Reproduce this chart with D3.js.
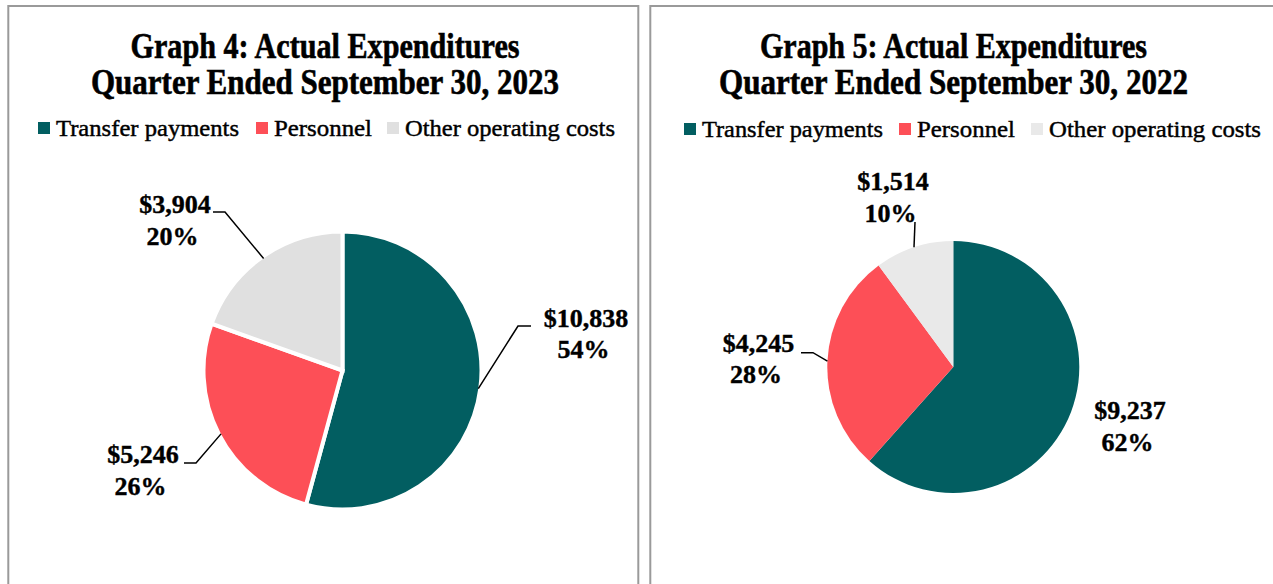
<!DOCTYPE html>
<html>
<head>
<meta charset="utf-8">
<script src="https://cdn.jsdelivr.net/npm/d3@7"></script>
<style>
  body { margin: 0; background: #fff; }
  text { font-family: 'Liberation Serif', 'Times New Roman', serif; fill: #000; }
</style>
</head>
<body>
<div id="chart"></div>
<script>
'use strict';

// chart data
const categories = ['Transfer payments', 'Personnel', 'Other operating costs'];
const values2023 = [10838, 5246, 3904];
const values2022 = [9237, 4245, 1514];
const titles2023 = ['Graph 4: Actual Expenditures', 'Quarter Ended September 30, 2023'];
const titles2022 = ['Graph 5: Actual Expenditures', 'Quarter Ended September 30, 2022'];

const sliceColors = ['#025e61', '#fd4f57', '#e0e0e0'];
const sliceColorsRight = ['#025e61', '#fd4f57', '#e9e9e9'];

const width = 1273;
const height = 584;

const svg = d3.select('#chart')
  .append('svg')
    .attr('width', width)
    .attr('height', height);

/** label layout for each panel: label centre (first baseline) and leader bend, relative to the pie centre */
const layoutLeft = [
  { lx: 243.5, ly: -44, bend: [175.5, -44.5], end: [188.5, -44.5] },
  { lx: -199.5, ly: 92.5, bend: [-146.5, 92.5], end: [-158.5, 92.5] },
  { lx: -167.5, ly: -157.5, bend: [-117.5, -158.5], end: [-129.5, -158.5] }
];
const layoutRight = [
  { lx: 176.7, ly: 52, bend: null, end: null },
  { lx: -194.8, ly: -15.3, bend: [-140.3, -14.3], end: [-152.3, -14.3] },
  { lx: -60.3, ly: -177, bend: [-38.3, -145], end: null }
];

/**
 * draw one panel: border, title, legend, pie and labels
 */
function drawPanel (cfg) {
  const g = svg.append('g');

  // panel border
  g.append('rect')
    .attr('x', cfg.box[0])
    .attr('y', cfg.box[1])
    .attr('width', cfg.box[2])
    .attr('height', cfg.box[3])
    .attr('fill', 'none')
    .attr('stroke', '#9a9a9a')
    .attr('stroke-width', 2);

  // title
  cfg.titles.forEach(function (t, i) {
    g.append('text')
      .attr('x', cfg.titleX)
      .attr('y', 58 + i * 36)
      .attr('text-anchor', 'middle')
      .attr('font-size', 35)
      .attr('font-weight', 'bold')
      .attr('stroke', '#000')
      .attr('stroke-width', 0.6)
      .attr('textLength', cfg.titleWidths[i])
      .attr('lengthAdjust', 'spacingAndGlyphs')
      .text(t);
  });

  // legend
  const legend = g.selectAll('.legend')
    .data(categories)
    .join('g')
      .attr('class', 'legend')
      .attr('transform', (d, i) => `translate(${cfg.legendX[i]},0)`);
  legend.append('rect')
    .attr('x', 0)
    .attr('y', cfg.legendY - 6)
    .attr('width', 12)
    .attr('height', 12)
    .attr('fill', (d, i) => cfg.colors[i]);
  legend.append('text')
    .attr('x', 18)
    .attr('y', cfg.legendY + 7.5)
    .attr('font-size', 24)
    .attr('stroke', '#000')
    .attr('stroke-width', 0.45)
    .attr('textLength', (d, i) => cfg.legendWidths[i])
    .attr('lengthAdjust', 'spacingAndGlyphs')
    .text(d => d);

  // pie
  const total = d3.sum(cfg.values);
  const pie = d3.pie().sort(null).value(d => d);
  const slices = pie(cfg.values);
  const arc = d3.arc().innerRadius(0).outerRadius(cfg.radius + cfg.gap / 2);
  const edgeArc = d3.arc().innerRadius(cfg.radius).outerRadius(cfg.radius);

  const pieG = g.append('g')
    .attr('transform', `translate(${cfg.cx},${cfg.cy})`);

  pieG.selectAll('path')
    .data(slices)
    .join('path')
      .attr('d', arc)
      .attr('fill', (d, i) => cfg.colors[i])
      .attr('stroke', cfg.gap > 0 ? '#fff' : 'none')
      .attr('stroke-width', cfg.gap)
      .attr('stroke-linejoin', 'miter');

  // leader lines
  const line = d3.line();
  slices.forEach(function (s, i) {
    const lay = cfg.layout[i];
    if (!lay.bend) return;
    const pts = [edgeArc.centroid(s), lay.bend];
    if (lay.end) pts.push(lay.end);
    pieG.append('path')
      .attr('d', line(pts))
      .attr('fill', 'none')
      .attr('stroke', '#000')
      .attr('stroke-width', 1.5);
  });

  // data labels
  const fmtMoney = d3.format('$,');
  const fmtPct = d3.format('.0%');
  slices.forEach(function (s, i) {
    const lay = cfg.layout[i];
    const t = pieG.append('text')
      .attr('text-anchor', 'middle')
      .attr('font-size', 26)
      .attr('font-weight', 'bold')
      .attr('stroke', '#000')
      .attr('stroke-width', 0.4);
    t.append('tspan')
      .attr('x', lay.lx)
      .attr('y', lay.ly)
      .text(fmtMoney(s.data));
    t.append('tspan')
      .attr('x', lay.lx - 2.5)
      .attr('y', lay.ly + 31.6)
      .text(fmtPct(s.data / total));
  });
}

drawPanel({
  box: [8.3, 6, 630, 600],
  titles: titles2023,
  titleX: 325,
  titleWidths: [389, 468],
  legendX: [38, 256, 387],
  legendY: 128,
  legendWidths: [183, 98, 210],
  values: values2023,
  colors: sliceColors,
  cx: 342.5,
  cy: 370.5,
  radius: 137,
  gap: 4,
  layout: layoutLeft
});

drawPanel({
  box: [650.3, 6, 640, 600],
  titles: titles2022,
  titleX: 953.5,
  titleWidths: [387, 469],
  legendX: [684, 899, 1031],
  legendY: 129,
  legendWidths: [181, 98, 212],
  values: values2022,
  colors: sliceColorsRight,
  cx: 953.3,
  cy: 367,
  radius: 126,
  gap: 0,
  layout: layoutRight
});
</script>
</body>
</html>
